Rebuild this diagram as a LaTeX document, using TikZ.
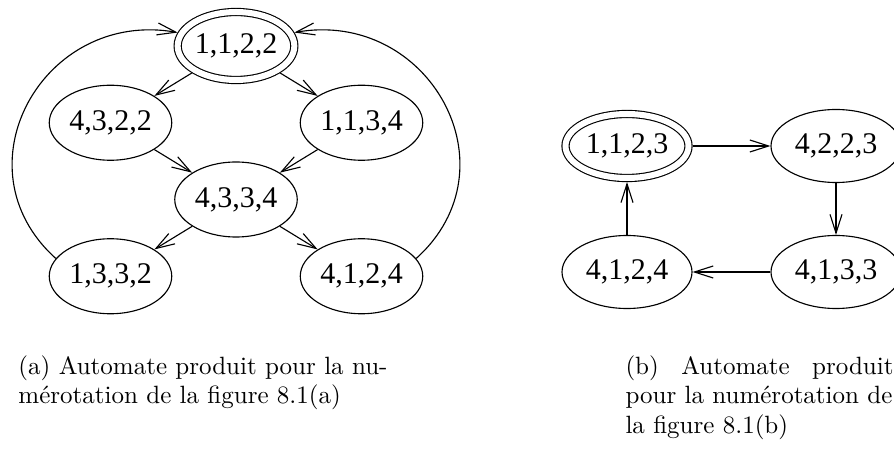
\documentclass[tikz,border=0pt]{standalone}
\usepackage{fontspec}
\newfontfamily\etatfont{Liberation Serif}
\usetikzlibrary{arrows.meta,positioning,shapes.geometric}
\tikzset{
  etat/.style={
    ellipse,
    draw,
    line width=.45pt,
    inner sep=0pt,
    minimum width=49pt,
    minimum height=30pt,
    font=\etatfont\fontsize{12}{14}\selectfont
  },
  etatlarge/.style={
    etat,
    minimum width=52pt,
    minimum height=29.2pt
  },
  etatfinal/.style={
    double,
    double distance=2.4pt,
    outer sep=1.6pt
  },
  trans/.style={
    -{Straight Barb[length=7.5pt,width=4.8pt]},
    line width=.45pt
  },
  legende/.style={font=\fontsize{10}{11.8}\selectfont, inner sep=0pt, anchor=north west}
}
\begin{document}
\begin{tikzpicture}[node distance=30.7pt and 50.2pt, on grid]
  \useasboundingbox (0,0) rectangle (357.6pt,179.2pt);

  % automate (a)
  \node[etat, etatfinal, minimum width=46pt, minimum height=27.2pt] (s1122)
    at (94.4pt,160.8pt) {1,1,2,2};
  \node[etat, below left=of s1122] (s4322) {4,3,2,2};
  \node[etat, below right=of s1122] (s1134) {1,1,3,4};
  \node[etat, below right=of s4322] (s4334) {4,3,3,4};
  \node[etat, below left=of s4334] (s1332) {1,3,3,2};
  \node[etat, below right=of s4334] (s4124) {4,1,2,4};

  \draw[trans] (s1122) -- (s4322);
  \draw[trans] (s1122) -- (s1134);
  \draw[trans] (s4322) -- (s4334);
  \draw[trans] (s1134) -- (s4334);
  \draw[trans] (s4334) -- (s1332);
  \draw[trans] (s4334) -- (s4124);
  \draw[trans] (s1332.162) to[out=138, in=170, looseness=1.36] (s1122.167);
  \draw[trans] (s4124.18) to[out=42, in=10, looseness=1.36] (s1122.13);

  % automate (b)
  \node[etatlarge, etatfinal, minimum width=49.2pt, minimum height=25.6pt] (t1123)
    at (250.8pt,120.8pt) {1,1,2,3};
  \node[etatlarge, right=83.6pt of t1123] (t4223) {4,2,2,3};
  \node[etatlarge, below=50.4pt of t4223] (t4133) {4,1,3,3};
  \node[etatlarge, left=83.6pt of t4133] (t4124) {4,1,2,4};

  \draw[trans] (t1123) -- (t4223);
  \draw[trans] (t4223) -- (t4133);
  \draw[trans] (t4133) -- (t4124);
  \draw[trans] (t4124) -- (t1123);

  % legendes
  \node[legende, align=left] (capa) at (7.2pt,37.2pt)
    {(a) Automate produit pour la nu-\\mérotation de la figure 8.1(a)};
  \node[legende, text width=107.2pt, align=justify] (capb) at (250pt,37.2pt)
    {(b)\hfill Automate\hfill produit\\pour la numérotation de\\la figure 8.1(b)};
\end{tikzpicture}
\end{document}
